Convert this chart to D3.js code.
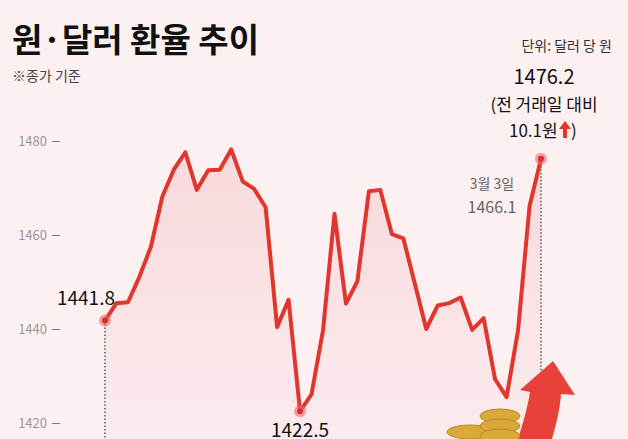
<!DOCTYPE html>
<html><head><meta charset="utf-8">
<script src="https://cdn.jsdelivr.net/npm/d3@7"></script>
<style>body{margin:0;background:#fcf0f1;}svg{display:block;font-family:"Noto Sans CJK KR",sans-serif;}</style>
</head><body>
<svg id="c" width="628" height="439"></svg>
<script>
const values=[1441.8,1445.5,1445.7,1451.1,1457.5,1468.2,1473.9,1477.6,1469.6,1473.8,1473.9,1478.2,1471.4,1469.8,1465.9,1440.4,1446.2,1422.5,1426.1,1439.7,1464.5,1445.4,1450.2,1469.3,1469.6,1460.2,1459.3,1449.7,1440.0,1445.0,1445.5,1446.7,1439.8,1442.3,1429.3,1425.5,1439.7,1466.1,1476.2];
const yTicks=[1420,1440,1460,1480];
const svg=d3.select("#c");
const x=d3.scaleLinear().domain([0,values.length-1]).range([105,541]);
const y=d3.scaleLinear().domain([1420,1480]).range([423,141]);
const defs=svg.append("defs");
const g=defs.append("linearGradient").attr("id","ag").attr("x1",0).attr("x2",0).attr("y1",0).attr("y2",1);
g.append("stop").attr("offset",0).attr("stop-color","#f7d3d6");
g.append("stop").attr("offset",1).attr("stop-color","#fbeaec");
svg.append("path").datum(values).attr("fill","url(#ag)").attr("opacity",0.8)
 .attr("d",d3.area().x((d,i)=>x(i)).y0(439).y1(d=>y(d)));
const ax=svg.append("g").attr("transform","translate(61,0)").call(d3.axisLeft(y).tickValues(yTicks).tickFormat(d3.format("d")).tickSize(8).tickPadding(6));
ax.select(".domain").remove();
ax.selectAll("line").attr("stroke","#777").attr("transform","translate(-1,0)");
ax.selectAll("text").attr("fill","#999").attr("font-size",13).attr("font-family","Noto Sans CJK KR");
const last=values.length-1;
[[0,values[0]],[last,values[last]]].forEach(([i,v])=>{
 svg.append("line").attr("x1",x(i)).attr("x2",x(i)).attr("y1",y(v)).attr("y2",439).attr("stroke","#333").attr("stroke-width",1.2).attr("stroke-dasharray","1.5,2");
});
svg.append("path").attr("d","M518,439 C524,420 528,405 530,392 L520,390 L553,361 L575,395 L561,394 C560,410 556,425 552,439 Z").attr("fill","#e8403b");
const coins=[[470,432,23],[500,416,20],[500,426,20],[500,436,20]];
coins.forEach(([cx,cy,r])=>{svg.append("ellipse").attr("cx",cx).attr("cy",cy).attr("rx",r).attr("ry",7).attr("fill","#d9a93a").attr("stroke","#b88a25");});
svg.append("path").datum(values).attr("fill","none").attr("stroke","#e0362d").attr("stroke-width",4).attr("stroke-linejoin","round")
 .attr("d",d3.line().x((d,i)=>x(i)).y(d=>y(d)));
const minI=values.indexOf(d3.min(values));
[0,minI,last].forEach(i=>{
 svg.append("circle").attr("cx",x(i)).attr("cy",y(values[i])).attr("r",6).attr("fill","#e66a6a").attr("opacity",0.6);
 svg.append("circle").attr("cx",x(i)).attr("cy",y(values[i])).attr("r",3).attr("fill","#d9302a");
});
const t=(xx,yy,s,size,opt={})=>svg.append("text").attr("x",xx).attr("y",yy).text(s).attr("font-size",size)
 .attr("text-anchor",opt.a||"start").attr("fill",opt.c||"#111").attr("font-weight",opt.w||"normal");
t(86,305,values[0].toFixed(1),19,{a:"middle"});
t(x(minI),437,values[minI].toFixed(1),19,{a:"middle"});
t(544,84,values[last].toFixed(1),20,{a:"middle"});
t(544,111,"(전 거래일 대비",17,{a:"middle"});
t(509,137,"10.1원",17);
t(571,137,")",17);
svg.append("path").attr("d","M563,138 L563,129 L559,129 L565,121 L571,129 L567,129 L567,138 Z").attr("fill","#e0362d");
t(492,189,"3월 3일",14,{a:"middle",c:"#666"});
t(492,213,"1466.1",16,{a:"middle",c:"#666"});
t(12,52,"원·달러 환율 추이",33,{w:"bold"});
t(612,51,"단위: 달러 당 원",14,{a:"end",c:"#333"});
t(12,81,"※종가 기준",14,{c:"#444"});
</script>
</body></html>
